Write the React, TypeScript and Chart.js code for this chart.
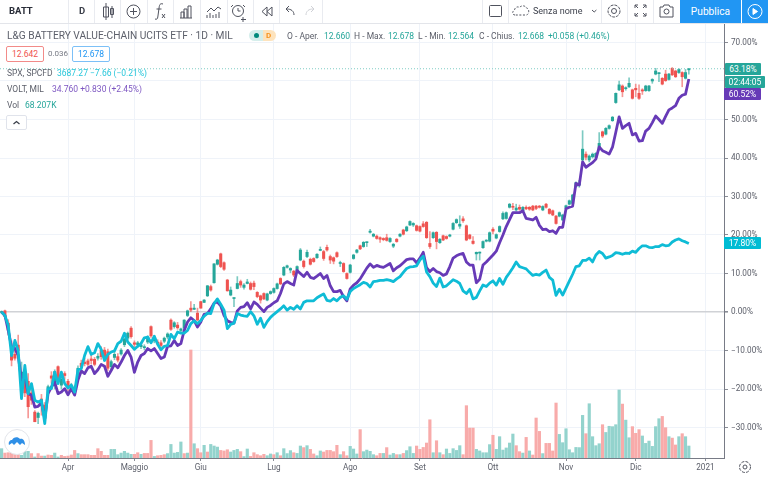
import React, { useEffect, useRef } from "react";
import { Chart, registerables } from "chart.js";

Chart.register(...registerables);

const FONT = "Roboto, 'Open Sans', sans-serif";
const TEAL = "#26a69a";
const RED = "#ef5350";
const CYAN = "#0fbcd6";
const PURPLE = "#673ab7";

const yTickValues = [70, 60, 50, 40, 30, 20, 10, 0, -10, -20, -30];
const monthIndexes = [20, 40, 60, 82, 105, 126, 148, 170, 191, 212];
const monthLabels = ["Apr", "Maggio", "Giu", "Lug", "Ago", "Set", "Ott", "Nov", "Dic", "2021"];

const voltPct = [
  0, -0.9, -4.8, -9, -9.5, -11.3, -17.7, -16.9, -21.2, -21.6,
  -24.7, -24.5, -23.6, -27.7, -21.2, -19.5, -18.2, -21.2, -20.8, -19.9,
  -21.5, -19.9, -21.6, -17.7, -15.3, -16, -14.5, -14.1, -16, -15,
  -13.6, -14.1, -16.7, -15.2, -13.6, -14.5, -13, -11.3, -10, -11.7,
  -15.7, -13, -11.3, -10.8, -9.5, -10.1, -9.5, -10.8, -12.1, -11.7,
  -8.9, -8.8, -7.4, -8.7, -8.2, -4.8, -2.6, -1.5, -2.2, -3.9,
  -2.6, -0.6, -0.4, 0.8, 2.3, 2.6, 1.6, -0.9, -2.3, -2.7,
  -2.9, 0.3, 1.2, 1.4, 2.4, 0.8, 2.6, 2, 1, 0.1,
  1.2, 1.7, 2.4, 2.9, 4.8, 7.3, 7.9, 7.4, 7, 10.8,
  10, 9.2, 10.3, 9, 8.7, 9.3, 10, 8.7, 9.5, 6.8,
  5.3, 5.3, 5.6, 4, 2.9, 6, 7, 7.6, 8.6, 10,
  11.4, 12.5, 11.6, 12.1, 11.8, 11.6, 12.1, 12.6, 10.7, 11.5,
  12, 12.8, 13.6, 13.8, 13.8, 12.8, 14, 15.5, 11.5, 10.5,
  11.3, 10.5, 10.2, 9.5, 9.9, 11.8, 14, 14.6, 15, 15.2,
  13, 12.2, 12.2, 7.6, 8.5, 12.2, 13, 13.9, 14.8, 15.8,
  18, 20, 22.2, 24, 25.8, 25.8, 25.8, 26.3, 24.3, 24.1,
  23.9, 24.6, 22.5, 21.4, 21.5, 20.9, 21.1, 20.4, 22, 22,
  26.8, 27.2, 27.5, 33.4, 33, 39, 37.6, 38.2, 38.8, 39.7,
  42.9, 41.9, 41.5, 41, 42.8, 46.7, 50.7, 47.7, 48.4, 49,
  46, 46.4, 44.4, 44.5, 47, 47.7, 49.2, 50.9, 50, 49,
  50.8, 52.5, 53, 53.6, 55.5, 56.3, 56.6, 60.52,
];

const spxPct = [
  0, -0.9, -3.5, -11.3, -7.4, -10, -22.5, -13.9, -21.2, -18.6,
  -22.9, -23.4, -22.9, -29, -19.9, -19.9, -15.6, -18.6, -15.6, -18.6,
  -19.7, -19, -20.8, -15, -14.7, -11.3, -9, -11, -10.6, -8.2,
  -9.7, -12.6, -11, -10.4, -10.1, -8.2, -7.6, -5.5, -7.8, -8.7,
  -9.7, -8.9, -8.2, -6.7, -6.5, -8, -6.3, -8.4, -9.8, -8.9,
  -8.7, -5.8, -6.9, -5.2, -5.5, -5.5, -4.8, -3, -2.3, -3,
  -2.2, -1.1, -0.3, -0.4, 2.2, 3.4, 2, 0.5, -4.3, -3.2,
  -2.9, -0.4, -0.8, -1, -1.1, 0.1, -1, -3.2, -1.6, -4,
  -2.5, -1.4, -0.6, 0.1, 0.8, 1.6, 0.5, 1.2, 0.7, 1.6,
  0.8, 2.5, 2.9, 2.9, 2.9, 3.7, 4.2, 4.7, 3, 2.8,
  3.5, 2.9, 3.8, 4.2, 3.3, 5.3, 6.1, 6.6, 7.1, 7.7,
  7.4, 6.5, 7.9, 8, 8.2, 8.2, 8.4, 8.2, 7.9, 8.6,
  9.2, 10.3, 11.3, 11.7, 11.8, 12, 13.5, 14.5, 10.4, 9.2,
  7.5, 6.6, 8.8, 6.5, 6.8, 7.6, 8.4, 8, 7.4, 5.5,
  4.8, 5.9, 3.4, 3.8, 5.5, 7, 6.6, 7.5, 8.1, 7,
  8.7, 7.2, 9, 10.2, 11.5, 13, 11.8, 11.5, 11.2, 10.3,
  9.5, 9.8, 9.6, 10.3, 10.9, 9, 8.3, 4.3, 5.9, 4.4,
  6.2, 8, 9.8, 11.8, 12, 13.4, 13.4, 14, 13, 14.8,
  15.7, 15.2, 14, 14.3, 14.7, 15.4, 15.3, 15, 15.3, 15.2,
  15.8, 15.5, 16.5, 17.2, 17.2, 16.8, 16.7, 17, 17, 17.5,
  17.2, 17.3, 18.2, 18.7, 19, 18.5, 18.2, 17.8,
];

// [open, high, low, close] in % from the first close
const candlesOHLC = [
  [0, 0.3, -0.3, 0.1], [0.3, 0.5, -1.6, -1.2], [-2.9, -2, -6, -4.7], [-9.4, -7.5, -14, -12.5], [-11, -8, -12.5, -12],
  [-8.6, -6, -11, -10], [-17, -13, -19, -15.6], [-16, -14, -22, -21], [-18, -16, -27.5, -24.6], [-21, -19, -24, -22.9],
  [-26, -25.6, -28.5, -28.5], [-27.4, -26, -29, -26.3], [-22.6, -21.4, -26.8, -24.2], [-24.2, -23.5, -28.3, -27.6], [-21, -19, -22, -19.4],
  [-16.6, -15.5, -18.5, -17.2], [-19, -15, -20, -15.5], [-14.2, -14, -18.5, -17.7], [-19, -16, -20, -17.4], [-16, -15.5, -17.5, -16.5],
  [-18, -17.5, -20.5, -19.8], [-20, -18.5, -20.5, -19], [-20.2, -19, -21, -19.5], [-16.4, -14, -17, -14.6], [-13.3, -12.5, -15, -14.2],
  [-13, -12, -14, -13.4], [-12.7, -12.2, -14, -13.6], [-12.2, -10.7, -13.5, -12.6], [-12.3, -11.8, -14, -13.6], [-12, -10.8, -12.5, -11.5],
  [-9.9, -9, -12.3, -11.6], [-9.9, -9.2, -12, -11.6], [-10.3, -9.6, -15.2, -14.6], [-14.2, -12.5, -15, -12.9], [-11.8, -10.4, -12.4, -11],
  [-11.6, -10.8, -13, -12.5], [-10.9, -9.5, -11.2, -9.9], [-8.5, -6.8, -9, -7], [-6.8, -5.2, -7.2, -5.5], [-4.2, -3.8, -6.8, -6.4],
  [-8, -7.5, -9, -8.4], [-8.5, -7.6, -9.2, -8], [-9, -8.2, -9.5, -8.6], [-9.2, -8.5, -9.8, -9], [-7.8, -6.2, -8.2, -6.5],
  [-3.8, -3.6, -6.6, -6.2], [-7.5, -6.2, -8, -6.7], [-7.8, -7.2, -8.4, -8], [-8, -7.4, -9, -8.7], [-7.6, -6.5, -8, -6.8],
  [-6.5, -5.4, -7, -5.7], [-2.1, -1.8, -4.8, -4.5], [-3.8, -2.5, -4.2, -2.8], [-3.4, -2.7, -4.5, -4.1], [-4.8, -4.2, -5.2, -4.4],
  [-4.2, -2, -4.5, -2.1], [-0.9, 0.5, -1.2, 0.3], [1, 2.7, 0.1, 0.5], [0.7, 2, 0.6, 1], [-0.3, 1, -2.2, -2.1],
  [2.7, 2.8, 1, 1], [2.5, 3.2, 2.4, 3.1], [4.2, 6.9, 4, 6.8], [6.6, 7, 5.4, 5.7], [7.6, 12.6, 7.5, 12.5],
  [12.4, 13.7, 12.2, 13.5], [15.1, 15.3, 11.5, 11.8], [12.8, 13, 10.8, 11.1], [8.3, 8.5, 5.4, 5.5], [4.4, 6.5, 4.2, 5.7],
  [3.5, 3.6, 1.4, 3.6], [6.1, 9.2, 6, 7.4], [7.9, 8.3, 6.4, 7], [6.4, 7.4, 5.9, 7], [7.4, 8.5, 7.3, 7.8],
  [7.4, 7.8, 5.7, 5.9], [7.5, 8, 5.8, 6.6], [5.1, 5.3, 3.7, 4], [4.2, 4.4, 2.3, 3.1], [4.8, 5, 3.2, 3.4],
  [3.1, 4.9, 2.9, 4.7], [4.8, 5.5, 4.6, 5.3], [5.1, 6.3, 4.9, 6.1], [6.1, 7.5, 5.9, 7.3], [8.7, 8.9, 7.1, 7.3],
  [9.6, 11.8, 9.4, 11.6], [11.6, 12.2, 11.4, 12], [10.9, 11.5, 10.2, 11.3], [10.6, 10.8, 9.2, 9.6], [10.6, 12, 10.4, 11.8],
  [13.5, 16.5, 13.3, 16.1], [13.2, 13.5, 11.4, 11.8], [14.4, 16.1, 14.1, 15.5], [13.7, 14, 12.2, 12.4], [13.9, 14.1, 12.9, 13.1],
  [14.1, 15.2, 13.9, 15], [16, 16.9, 15.9, 16.1], [15.7, 16, 13.4, 13.9], [16.8, 17.4, 15.8, 16.1], [14.4, 14.8, 12.6, 13.5],
  [14.1, 14.3, 12.5, 13.2], [15.4, 15.6, 14.2, 14.4], [12.6, 13.2, 11.8, 12.8], [12.6, 12.8, 10.3, 10.5], [10, 10.2, 8.5, 8.7],
  [10.3, 12.4, 10.1, 12.2], [13.9, 15, 13.7, 14.8], [15.5, 16.3, 15.3, 16.1], [17.2, 17.4, 16.2, 16.4], [17, 18.3, 16.8, 18.1],
  [18, 18.2, 17, 18.1], [20.7, 21.5, 20.5, 21], [19.7, 20.4, 19.5, 20.2], [19.7, 20, 18.9, 19.1], [19.3, 19.5, 18.1, 18.9],
  [19.1, 19.3, 18.5, 18.8], [19.3, 20.2, 18.4, 18.6], [18.3, 19.3, 18.1, 19.1], [17.1, 17.8, 16.7, 17.6], [18.9, 19.1, 18.1, 18.3],
  [19.7, 20.4, 19.5, 20.2], [21.3, 21.5, 20, 20.2], [21.1, 22.3, 20.9, 22.1], [22.6, 23.7, 22.4, 23.5], [22.6, 23.2, 22.2, 23],
  [22.4, 22.6, 21, 21.2], [22.2, 22.4, 20.8, 21], [22.9, 23.5, 22, 22.2], [23.3, 23.5, 19.1, 19.3], [17.8, 20.9, 16.5, 17],
  [19.3, 20.8, 19.1, 20.6], [20.7, 20.9, 16.4, 18.3], [18, 19.1, 17.8, 18.9], [19.8, 20, 18.5, 18.7], [19.6, 19.8, 18.9, 19.1],
  [19.7, 20.2, 19.5, 20], [21.5, 23.2, 21.3, 23], [23.2, 24.2, 23, 24], [22.3, 25, 21.7, 22.8], [24.2, 24.8, 23.3, 23.7],
  [22.4, 22.6, 18.5, 18.7], [20, 20.2, 18.9, 19.1], [18.4, 19.6, 17.6, 17.8], [15.1, 15.6, 13.5, 15.5], [15.3, 15.6, 13.5, 15.5],
  [16.7, 18.5, 16.5, 18.3], [18.4, 18.8, 18.2, 18.6], [18.4, 20.8, 18.2, 20.6], [21.5, 21.9, 20.3, 21], [19.2, 20.3, 19, 20.1],
  [20.9, 22.4, 20.7, 22.2], [24.2, 26, 24, 25.6], [24.3, 26, 24.1, 25.8], [27.2, 28.2, 27, 28], [27.4, 28.2, 26.6, 27.2],
  [26.5, 28, 26.2, 27], [27.2, 27.8, 26.4, 26.7], [26.3, 27.4, 26.1, 27.2], [27.2, 27.6, 26.6, 26.8], [27.2, 27.4, 26.4, 26.7],
  [27.5, 27.7, 26.3, 26.5], [27.5, 27.7, 26.6, 26.9], [27.5, 27.7, 27, 27.2], [26.5, 27.6, 26.3, 27.4], [28, 28.2, 27, 27.2],
  [26.7, 26.9, 25.4, 25.6], [26.3, 26.5, 25, 25.2], [24.9, 25.1, 22.8, 23], [24.9, 26, 24.7, 25.8], [23.9, 25.4, 23.7, 25.2],
  [26.9, 27.8, 26.7, 27.6], [28, 29.1, 27.8, 28.9], [28.2, 30.6, 28, 30.4], [32.6, 33.8, 32.4, 33.6], [33, 34.2, 32.4, 33.4],
  [39.5, 47.1, 39, 42.3], [41, 41.6, 39.5, 40.2], [39.5, 40.8, 39, 40.5], [40.3, 41.3, 40, 41], [40.2, 41.4, 40, 41.2],
  [42.5, 46.6, 42, 43.8], [46.8, 47, 45.3, 45.7], [46.2, 47.9, 46, 47.7], [47.7, 48.6, 47.5, 48.4], [49.7, 50.8, 49.5, 50.6],
  [54.4, 56.9, 54.2, 56.8], [57.7, 60, 57.5, 59], [58.7, 59, 55.9, 57.2], [58, 58.5, 57.6, 58.2], [58.5, 60.8, 58.3, 59.4],
  [57.7, 57.9, 55.3, 55.5], [58.1, 59.2, 55.9, 57.7], [56.8, 59, 55.2, 55.5], [57.7, 58, 56.5, 57.4], [57.5, 58.9, 57.3, 58.7],
  [57.5, 58.9, 57.3, 58.7], [60, 60.6, 59.4, 60.4], [61.8, 63.3, 61.6, 62.6], [61.9, 62.2, 59.8, 62], [60.7, 60.9, 59, 59.2],
  [61.8, 62.8, 59.9, 60.1], [60.4, 62, 60.2, 61.8], [63.3, 63.5, 61.4, 61.6], [62.6, 62.8, 60.9, 61.1], [62.2, 63.2, 62, 63],
  [62.2, 62.4, 58.5, 61.1], [60.7, 63, 60.5, 62.2], [62.9, 63.3, 61.8, 63.18],
];

// volume in thousands of shares
const volumeK = [
  53, 28, 30, 38, 34, 28, 15, 38, 38, 25, 6, 25, 11, 11, 17, 15, 28, 6, 15, 9,
  11, 17, 43, 25, 19, 19, 19, 15, 15, 53, 38, 15, 15, 49, 49, 19, 28, 38, 28, 21,
  21, 30, 21, 26, 26, 100, 9, 13, 15, 19, 25, 77, 28, 32, 91, 25, 28, 613, 81, 53,
  30, 72, 34, 77, 68, 62, 43, 40, 47, 34, 43, 49, 36, 8, 51, 9, 30, 19, 13, 21,
  13, 23, 19, 30, 13, 53, 25, 42, 30, 26, 68, 59, 70, 49, 23, 13, 40, 34, 43, 43,
  36, 72, 19, 36, 13, 66, 51, 23, 161, 36, 45, 38, 19, 13, 26, 26, 59, 17, 26, 19,
  19, 26, 42, 64, 26, 68, 49, 60, 85, 217, 30, 98, 30, 19, 51, 26, 53, 43, 70, 19,
  297, 170, 170, 49, 40, 30, 30, 76, 129, 49, 121, 45, 57, 85, 136, 70, 36, 28, 117, 40,
  17, 227, 151, 25, 83, 83, 40, 312, 134, 87, 166, 47, 30, 60, 59, 242, 138, 308, 121, 70,
  81, 189, 145, 180, 178, 189, 386, 306, 215, 115, 178, 140, 161, 125, 83, 96, 66, 178, 223, 236,
  172, 121, 113, 74, 121, 138, 121, 68,
];

// 1 = up day (teal), 0 = down day (red)
const volumeUp = [
  1, 0, 0, 0, 0, 0, 1, 1, 1, 0, 1, 0, 0, 1, 0, 0, 1, 1, 0, 0,
  0, 0, 0, 1, 0, 0, 0, 0, 0, 0, 0, 0, 0, 1, 1, 1, 1, 1, 1, 1,
  0, 0, 1, 0, 0, 0, 1, 0, 0, 0, 1, 1, 1, 1, 1, 0, 1, 0, 1, 0,
  0, 1, 0, 1, 1, 1, 0, 0, 0, 1, 1, 1, 0, 1, 1, 0, 0, 0, 0, 0,
  1, 1, 0, 1, 0, 1, 1, 1, 0, 1, 1, 0, 1, 0, 0, 1, 1, 0, 0, 0,
  0, 0, 1, 0, 0, 1, 1, 1, 0, 1, 1, 1, 1, 0, 0, 1, 0, 1, 1, 0,
  1, 0, 1, 1, 1, 0, 0, 0, 0, 0, 1, 0, 1, 0, 1, 1, 1, 1, 1, 0,
  0, 0, 0, 1, 1, 1, 1, 1, 0, 1, 1, 1, 1, 1, 1, 0, 0, 1, 0, 1,
  0, 0, 0, 1, 0, 0, 0, 0, 1, 1, 1, 1, 1, 1, 1, 1, 0, 1, 1, 1,
  1, 0, 1, 1, 1, 1, 1, 0, 1, 1, 0, 0, 0, 1, 1, 1, 1, 1, 1, 0,
  0, 1, 0, 0, 1, 0, 1, 1,
];

const lastPrice = 63.18;

const PLOT_LEFT = 0, PLOT_RIGHT = 724, PLOT_TOP = 24, PLOT_BOTTOM = 458;
const Y_ZERO = 312, PX_PER_PCT = 3.85, X_ZERO = 1.6, PX_PER_DAY = 3.32;

function T(p: { x: number; y: number; c?: string; s?: number; w?: number; children: any }) {
  return (
    <div style={{ position: "absolute", left: p.x, top: p.y - 8, height: 16, lineHeight: "16px", color: p.c ?? "#5d606b", fontSize: p.s ?? 8.5, fontWeight: p.w ?? 400, whiteSpace: "nowrap" }}>
      {p.children}
    </div>
  );
}

function Chip(p: { x: number; y: number; w: number; h: number; bg: string; children: any }) {
  return (
    <div style={{ position: "absolute", left: p.x, top: p.y, width: p.w, height: p.h, background: p.bg, color: "#fff", fontSize: 8.5, lineHeight: p.h + "px", textAlign: "center", whiteSpace: "nowrap", borderRadius: 1 }}>
      {p.children}
    </div>
  );
}

function Sep({ x, top = 0, h = 23 }: { x: number; top?: number; h?: number }) {
  return <div style={{ position: "absolute", left: x, top, width: 1, height: h, background: "#e9ebf0" }} />;
}

function Toolbar() {
  const seps = [68, 94, 120, 147, 173, 200, 227, 253, 279, 322, 482, 508, 601, 627, 653];
  const ic = "#50535e";
  return (
    <>
      <div style={{ position: "absolute", left: 0, top: 23, width: 768, height: 1, background: "#e3e5ea" }} />
      {seps.map((x) => <Sep key={x} x={x} />)}
      <T x={9} y={11} c="#2a2e39" s={9.5} w={700}>BATT</T>
      <T x={79} y={11} c="#3b3f4a" s={9.5} w={700}>D</T>
      <svg style={{ position: "absolute", left: 0, top: 0 }} width={768} height={23} fill="none" stroke={ic} strokeWidth={1}>
        <path d="M106 3v17M103.5 7h5v10h-5zM112 6v12M110.5 8.5h3v6h-3z" />
        <circle cx={133.5} cy={11.5} r={6.5} /><path d="M133.5 8v7M130 11.5h7" />
        <path d="M163 4c-3-1-3.5 1-3.8 3l-1.4 10c-.3 2-1 2.7-2.8 2M156.5 9h5M162 14l3 4M165 14l-3 4" />
        <path d="M181 18v-6h3v6M184 18v-9h3v9M188 18V6h3v12M180 18h12" />
        <path d="M207 12l4-4 3 3 4-4 3 2M207 18v-3M210 18v-5M213 18v-3M216 18v-4M219 18v-6" />
        <circle cx={238} cy={11} r={5.5} /><path d="M238 8v3h2.5M233 5l-2 2M243 5l2 2M243 17v5M241 19.5h5" />
        <path d="M267 7l-5 4.5 5 4.5zM272 7l-5 4.5 5 4.5z" />
        <path d="M294 15c0-4-3-6-7-6M289 6l-3 3 3 3" />
        <path stroke="#cfd1d6" d="M306 15c0-4 3-6 7-6M311 6l3 3-3 3" />
        <rect x={489.5} y={5.5} width={12} height={11} rx={1} />
        <path strokeDasharray="2 1.6" d="M515 15c-3 0-3-4-.5-4.5 0-3 3-4.5 5-3 2-2.5 6-2 7 .5 3 .5 3 6 0 7z" />
        <path d="M592 10l2.2 2 2.2-2" />
        <circle cx={614} cy={11} r={2.5} /><circle cx={614} cy={11} r={6} strokeDasharray="3 1" />
        <path d="M635 5h3M635 5v3M635 5l3 3M646 5h-3M646 5v3M646 5l-3 3M635 16h3M635 16v-3M635 16l3-3M646 16h-3M646 16v-3M646 16l-3-3" />
        <path d="M660 7h3l1-2h5l1 2h3v10h-13z" /><circle cx={666.5} cy={11.5} r={2.5} />
      </svg>
      <T x={533} y={11} c="#3b3f4a" s={9}>Senza nome</T>
      <div style={{ position: "absolute", left: 680, top: 0, width: 61, height: 23, background: "#2196f3", color: "#fff", fontSize: 10.2, lineHeight: "23px", textAlign: "center" }}>Pubblica</div>
      <div style={{ position: "absolute", left: 742, top: 0, width: 26, height: 23, background: "#2196f3" }} />
      <svg style={{ position: "absolute", left: 742, top: 0 }} width={26} height={23} fill="none" stroke="#fff">
        <circle cx={13} cy={11.5} r={7} /><path fill="#fff" d="M11 8.5l4.5 3-4.5 3z" />
      </svg>
    </>
  );
}

function Legend() {
  const g = "#26a69a";
  return (
    <>
      <T x={7} y={36} s={10.2}>L&amp;G BATTERY VALUE-CHAIN UCITS ETF · 1D · MIL</T>
      <div style={{ position: "absolute", left: 249, top: 30, width: 14, height: 11, background: "#d5eeeb", borderRadius: "6px 0 0 6px" }} />
      <div style={{ position: "absolute", left: 263, top: 30, width: 13, height: 11, background: "#fde3bd", borderRadius: "0 6px 6px 0" }} />
      <div style={{ position: "absolute", left: 254, top: 33, width: 5, height: 5, background: "#00897b", borderRadius: 3 }} />
      <T x={266} y={35.5} s={8} c="#f7931e" w={700}>D</T>
      <T x={287} y={36}>O - Aper.</T><T x={324} y={36} c={g}>12.660</T>
      <T x={354} y={36}>H - Max.</T><T x={388} y={36} c={g}>12.678</T>
      <T x={418} y={36}>L - Min.</T><T x={448} y={36} c={g}>12.564</T>
      <T x={479} y={36}>C - Chius.</T><T x={518} y={36} c={g}>12.668</T>
      <T x={548} y={36} c={g}>+0.058 (+0.46%)</T>
      <div style={{ position: "absolute", left: 6, top: 46, width: 36, height: 14, border: "1px solid #f28b89", borderRadius: 2, background: "#fff", color: "#ef5350", fontSize: 8.5, lineHeight: "14px", textAlign: "center" }}>12.642</div>
      <T x={48} y={54} s={8} c="#777a85">0.036</T>
      <div style={{ position: "absolute", left: 72, top: 46, width: 36, height: 14, border: "1px solid #7cc0f7", borderRadius: 2, background: "#fff", color: "#2196f3", fontSize: 8.5, lineHeight: "14px", textAlign: "center" }}>12.678</div>
      <T x={7} y={73}>SPX, SPCFD</T><T x={57} y={73} c="#26c6da">3687.27  −7.66 (−0.21%)</T>
      <T x={7} y={89}>VOLT, MIL</T><T x={52} y={89} c="#7e57c2">34.760  +0.830 (+2.45%)</T>
      <T x={7} y={105}>Vol</T><T x={25} y={105} c={g}>68.207K</T>
      <div style={{ position: "absolute", left: 6, top: 115, width: 19, height: 13, border: "1px solid #e0e3eb", borderRadius: 2, background: "#fff" }} />
      <svg style={{ position: "absolute", left: 6, top: 115 }} width={21} height={15} fill="none" stroke="#3b3f4a" strokeWidth={1.3}>
        <path d="M7.5 9l3-2.5 3 2.5" />
      </svg>
    </>
  );
}

function Overlay() {
  return (
    <>
      <Chip x={725} y={63} w={36} h={12} bg="#26a69a">63.18%</Chip>
      <Chip x={725} y={76} w={40} h={12} bg="#26a69a">02:44:05</Chip>
      <Chip x={724} y={88} w={37} h={12} bg="#673ab7">60.52%</Chip>
      <Chip x={724} y={237} w={37} h={12} bg="#00bcd4">17.80%</Chip>
      <div style={{ position: "absolute", left: 4, top: 429, width: 24, height: 24, borderRadius: 13, background: "#fff", border: "1px solid #e3e5ea" }} />
      <svg style={{ position: "absolute", left: 8, top: 434 }} width={18} height={14}>
        <path fill="#2f8fe6" d="M1 11c-1-3 1-5 3-5 1-3 6-4 8-1 3-1 5 2 5 6l-3-2-2 2-3-3-3 3-2-2z" />
      </svg>
      <svg style={{ position: "absolute", left: 737, top: 459 }} width={16} height={16} fill="none" stroke="#50535e">
        <circle cx={8} cy={8} r={2} /><circle cx={8} cy={8} r={5.5} strokeDasharray="3 1.3" />
      </svg>
    </>
  );
}

export default function App() {
  const ref = useRef<HTMLCanvasElement>(null);

  useEffect(() => {
    document.body.style.margin = "0";
    document.body.style.background = "#fff";
    const idx = voltPct.map((_, i) => i);
    const xMin = (PLOT_LEFT - X_ZERO) / PX_PER_DAY;
    const xMax = (PLOT_RIGHT - X_ZERO) / PX_PER_DAY;
    const yMax = (Y_ZERO - PLOT_TOP) / PX_PER_PCT;
    const yMin = (Y_ZERO - PLOT_BOTTOM) / PX_PER_PCT;
    const candleColor = candlesOHLC.map((c) => (c[3] >= c[0] ? TEAL : RED));

    const chart = new Chart(ref.current!, {
      type: "bar",
      data: {
        datasets: [
          {
            type: "line", label: "SPX", order: 1, data: idx.map((i) => ({ x: i, y: spxPct[i] })),
            borderColor: CYAN, borderWidth: 2.8, pointRadius: 0, tension: 0, borderJoinStyle: "round", yAxisID: "y",
          },
          {
            type: "line", label: "VOLT", order: 2, data: idx.map((i) => ({ x: i, y: voltPct[i] })),
            borderColor: PURPLE, borderWidth: 2.8, pointRadius: 0, tension: 0, borderJoinStyle: "round", yAxisID: "y",
          },
          {
            type: "line", label: "Ultimo", order: 3, data: [{ x: xMin, y: lastPrice }, { x: xMax, y: lastPrice }],
            borderColor: "#7fcdc5", borderWidth: 1, borderDash: [1, 2], pointRadius: 0, yAxisID: "y",
          },
          {
            type: "bar", label: "BATT", order: 4, grouped: false, barThickness: 2.4, minBarLength: 1,
            data: idx.map((i) => ({ x: i, y: [candlesOHLC[i][0], candlesOHLC[i][3]] })),
            backgroundColor: candleColor, yAxisID: "y",
          },
          {
            type: "bar", label: "Ombre", order: 5, grouped: false, barThickness: 1,
            data: idx.map((i) => ({ x: i, y: [candlesOHLC[i][2], candlesOHLC[i][1]] })),
            backgroundColor: candleColor.map((c) => c + "99"), yAxisID: "y",
          },
          {
            type: "bar", label: "Vol", order: 6, grouped: false, barThickness: 2.5,
            data: idx.map((i) => ({ x: i, y: volumeK[i] })),
            backgroundColor: volumeUp.map((u) => (u ? "#93d3cd" : "#f8abaa")), yAxisID: "yv",
          },
        ] as any,
      },
      options: {
        animation: false,
        responsive: false,
        events: [],
        layout: { padding: { top: PLOT_TOP, left: 0, right: 0, bottom: 0 } },
        plugins: { legend: { display: false }, tooltip: { enabled: false } },
        scales: {
          x: {
            type: "linear", offset: false, min: xMin, max: xMax,
            afterBuildTicks: (s: any) => { s.ticks = monthIndexes.map((value) => ({ value })); },
            afterFit: (s: any) => { s.height = 477 - PLOT_BOTTOM; },
            grid: { offset: false, color: "#eff3f9", tickColor: "#8a8d96", tickLength: 3, drawTicks: true },
            border: { color: "#787b86", width: 1 },
            ticks: {
              autoSkip: false, maxRotation: 0, padding: 2, color: "#5d606b", font: { family: FONT, size: 8.2 },
              callback: (v: any) => monthLabels[monthIndexes.indexOf(v)] ?? "",
            },
          },
          y: {
            type: "linear", position: "right", min: yMin, max: yMax,
            afterBuildTicks: (s: any) => { s.ticks = yTickValues.map((value) => ({ value })); },
            afterFit: (s: any) => { s.width = 768 - PLOT_RIGHT; },
            grid: {
              color: (c: any) => (c.tick && c.tick.value === 0 ? "#d0d2d6" : "#eff3f9"),
              lineWidth: (c: any) => (c.tick && c.tick.value === 0 ? 1.6 : 1),
              tickColor: "#8a8d96", tickLength: 4,
            },
            border: { color: "#787b86", width: 1 },
            ticks: {
              padding: 3, color: "#5d606b", font: { family: FONT, size: 8.2 },
              callback: (v: any) => (v < 0 ? "\u2212" + Math.abs(v).toFixed(2) : Number(v).toFixed(2)) + "%",
            },
          },
          yv: { type: "linear", display: false, min: 0, max: 2463 },
        },
      } as any,
    });
    return () => chart.destroy();
  }, []);

  return (
    <div style={{ position: "absolute", left: 0, top: 0, width: 768, height: 477, overflow: "hidden", background: "#fff", fontFamily: FONT, filter: "blur(0.3px)" }}>
      <canvas ref={ref} width={768} height={477} style={{ position: "absolute", left: 0, top: 0, width: 768, height: 477 }} />
      <Toolbar />
      <Legend />
      <Overlay />
    </div>
  );
}
